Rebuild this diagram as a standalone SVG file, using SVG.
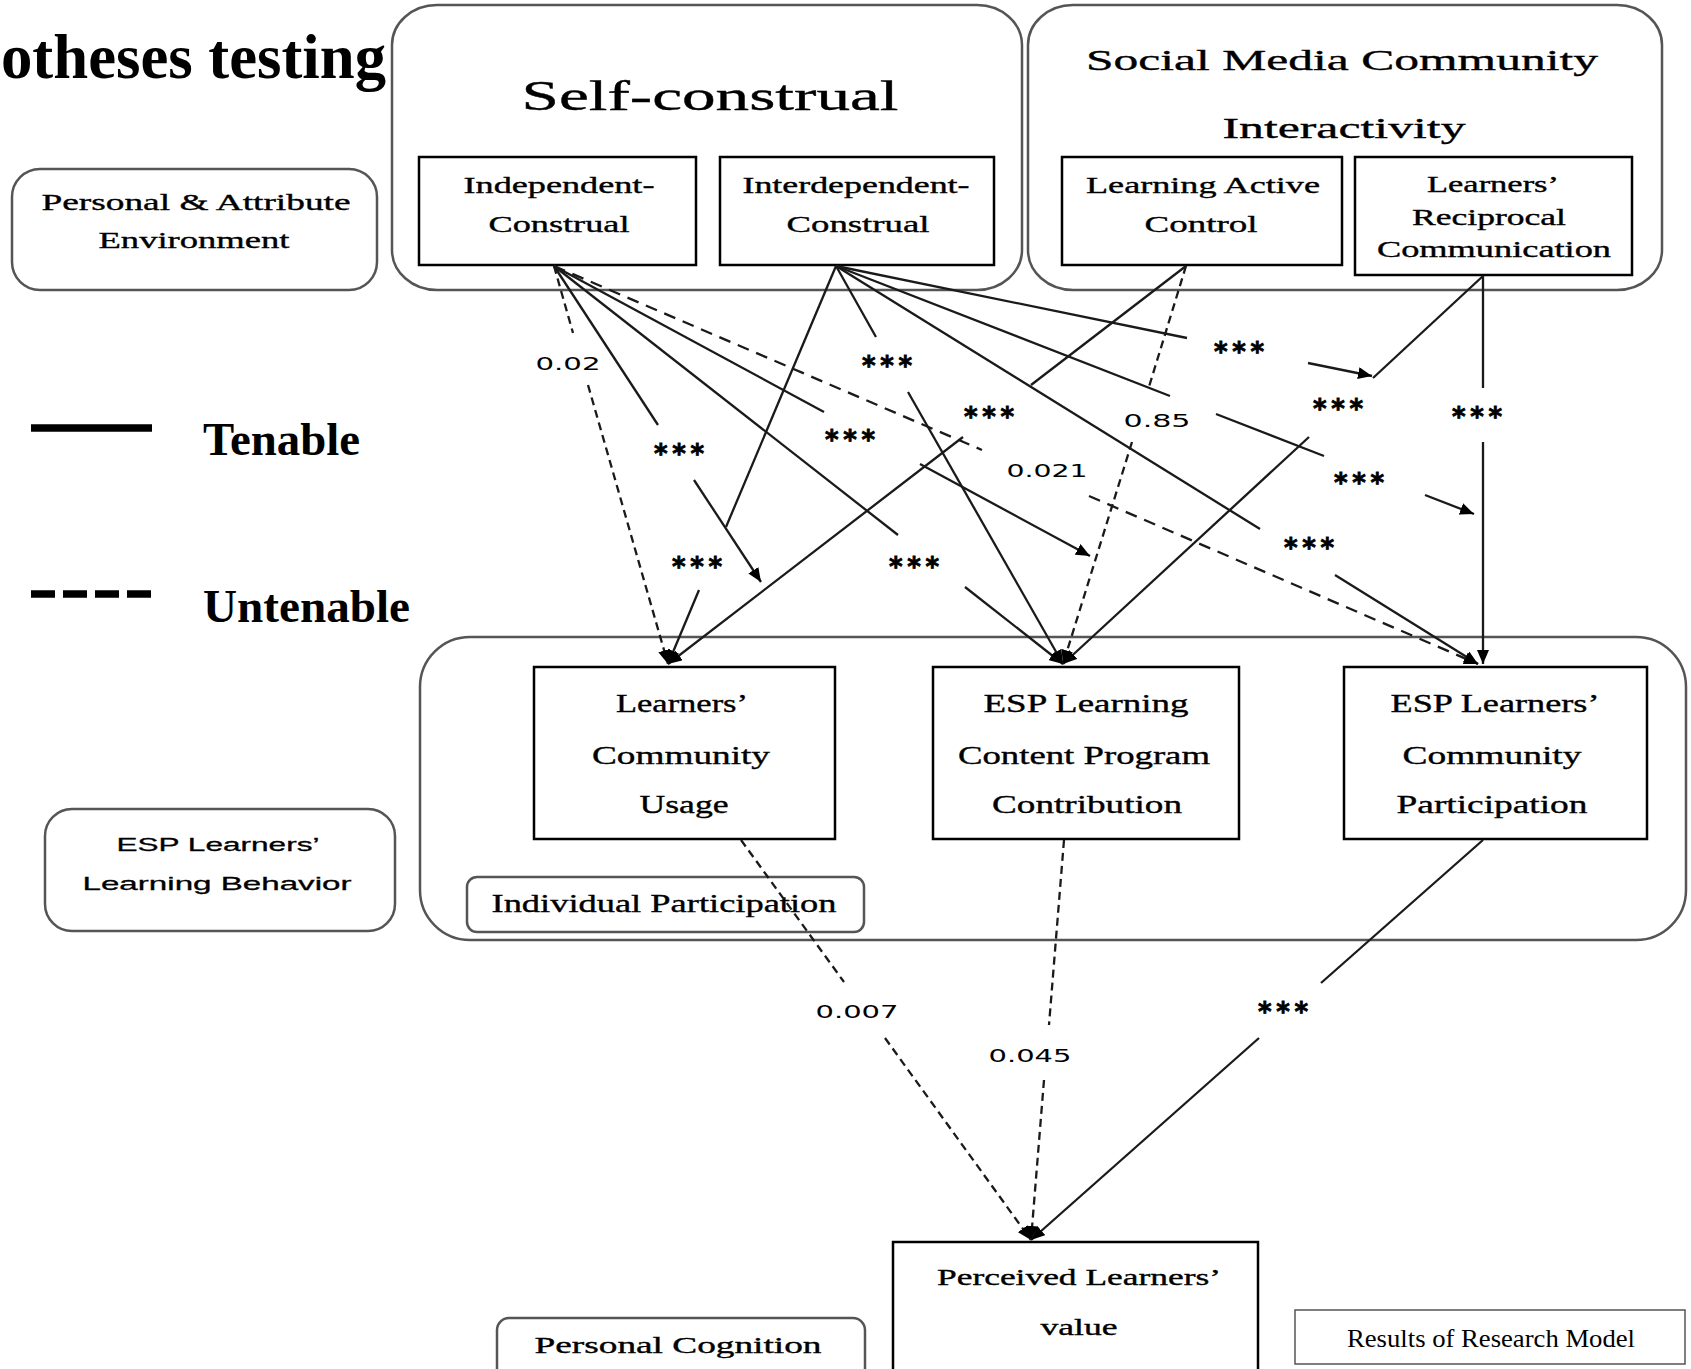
<svg xmlns="http://www.w3.org/2000/svg" width="1691" height="1369" viewBox="0 0 1691 1369">
<style>
.box{fill:#fff;stroke:#000;stroke-width:2.5}
.cont{fill:#fff;stroke:#555;stroke-width:2.5}
.t{font-family:"Liberation Serif","DejaVu Serif",serif;fill:#000;text-anchor:middle;stroke:#000;stroke-width:0.35}
.ts{font-family:"Liberation Sans","DejaVu Sans",sans-serif;fill:#000;text-anchor:middle;stroke:#000;stroke-width:0.3}
.c{fill:none;stroke:#1a1a1a;stroke-width:2.3}
.d{stroke-dasharray:8 5}
.num{font-family:"DejaVu Sans","Liberation Sans",sans-serif;font-size:18px;fill:#000;text-anchor:middle}
.st{font-family:"DejaVu Sans","Liberation Sans",sans-serif;font-size:26px;font-weight:bold;fill:#000;text-anchor:middle;stroke:#000;stroke-width:0.8}
.big{font-family:"Liberation Serif",serif;font-weight:bold;fill:#000}
</style>
<defs>
<marker id="ah" markerUnits="userSpaceOnUse" markerWidth="15" markerHeight="12" refX="14" refY="6" orient="auto">
<path d="M0,0 L14,6 L0,12 z" fill="#000" stroke="none"/>
</marker>
</defs>
<rect width="1691" height="1369" fill="#fff"/>

<text class="big" x="1" y="78" font-size="64" textLength="385" lengthAdjust="spacingAndGlyphs">otheses testing</text>

<g id="legend">
<line x1="31" y1="428" x2="152" y2="428" stroke="#000" stroke-width="7.5"/>
<text class="big" x="203" y="455" font-size="46" textLength="157" lengthAdjust="spacingAndGlyphs">Tenable</text>
<line x1="31" y1="594" x2="152" y2="594" stroke="#000" stroke-width="7.5" stroke-dasharray="24 8"/>
<text class="big" x="203" y="622" font-size="46" textLength="207" lengthAdjust="spacingAndGlyphs">Untenable</text>
</g>

<g id="personal-attribute">
<rect class="cont" x="12" y="169" width="365" height="121" rx="28"/>
<text class="t" x="196" y="210" font-size="24" textLength="309" lengthAdjust="spacingAndGlyphs">Personal &amp; Attribute</text>
<text class="t" x="194" y="248" font-size="24" textLength="191" lengthAdjust="spacingAndGlyphs">Environment</text>
</g>

<g id="esp-behavior">
<rect class="cont" x="45" y="809" width="350" height="122" rx="27"/>
<text class="ts" x="218" y="851" font-size="19" textLength="203" lengthAdjust="spacingAndGlyphs">ESP Learners’</text>
<text class="ts" x="217" y="890" font-size="19" textLength="269" lengthAdjust="spacingAndGlyphs">Learning Behavior</text>
</g>

<g id="self-construal">
<rect class="cont" x="392" y="5" width="630" height="285" rx="45" ry="40"/>
<text class="t" x="710" y="110" font-size="42" textLength="377" lengthAdjust="spacingAndGlyphs">Self-construal</text>
</g>
<g id="independent">
<rect class="box" x="419" y="157" width="277" height="108"/>
<text class="t" x="559" y="193" font-size="23" textLength="191" lengthAdjust="spacingAndGlyphs">Independent-</text>
<text class="t" x="559" y="232" font-size="23" textLength="141" lengthAdjust="spacingAndGlyphs">Construal</text>
</g>
<g id="interdependent">
<rect class="box" x="720" y="157" width="274" height="108"/>
<text class="t" x="856" y="193" font-size="23" textLength="227" lengthAdjust="spacingAndGlyphs">Interdependent-</text>
<text class="t" x="858" y="232" font-size="23" textLength="143" lengthAdjust="spacingAndGlyphs">Construal</text>
</g>

<g id="social-media">
<rect class="cont" x="1028" y="5" width="634" height="285" rx="45" ry="40"/>
<text class="t" x="1342" y="70" font-size="30" textLength="512" lengthAdjust="spacingAndGlyphs">Social Media Community</text>
<text class="t" x="1344" y="138" font-size="30" textLength="243" lengthAdjust="spacingAndGlyphs">Interactivity</text>
</g>
<g id="learning-active-control">
<rect class="box" x="1062" y="157" width="280" height="108"/>
<text class="t" x="1203" y="193" font-size="24" textLength="234" lengthAdjust="spacingAndGlyphs">Learning Active</text>
<text class="t" x="1201" y="232" font-size="24" textLength="113" lengthAdjust="spacingAndGlyphs">Control</text>
</g>
<g id="reciprocal-communication">
<rect class="box" x="1355" y="157" width="277" height="118"/>
<text class="t" x="1493" y="192" font-size="23" textLength="132" lengthAdjust="spacingAndGlyphs">Learners’</text>
<text class="t" x="1489" y="225" font-size="23" textLength="154" lengthAdjust="spacingAndGlyphs">Reciprocal</text>
<text class="t" x="1494" y="257" font-size="23" textLength="234" lengthAdjust="spacingAndGlyphs">Communication</text>
</g>

<g id="participation-container">
<rect class="cont" x="420" y="637" width="1266" height="303" rx="50"/>
</g>
<g id="community-usage">
<rect class="box" x="534" y="667" width="301" height="172"/>
<text class="t" x="682" y="712" font-size="25" textLength="132" lengthAdjust="spacingAndGlyphs">Learners’</text>
<text class="t" x="681" y="764" font-size="25" textLength="178" lengthAdjust="spacingAndGlyphs">Community</text>
<text class="t" x="684" y="813" font-size="25" textLength="89" lengthAdjust="spacingAndGlyphs">Usage</text>
</g>
<g id="content-contribution">
<rect class="box" x="933" y="667" width="306" height="172"/>
<text class="t" x="1086" y="712" font-size="25" textLength="205" lengthAdjust="spacingAndGlyphs">ESP Learning</text>
<text class="t" x="1084" y="764" font-size="25" textLength="252" lengthAdjust="spacingAndGlyphs">Content Program</text>
<text class="t" x="1087" y="813" font-size="25" textLength="190" lengthAdjust="spacingAndGlyphs">Contribution</text>
</g>
<g id="community-participation">
<rect class="box" x="1344" y="667" width="303" height="172"/>
<text class="t" x="1495" y="712" font-size="25" textLength="209" lengthAdjust="spacingAndGlyphs">ESP Learners’</text>
<text class="t" x="1492" y="764" font-size="25" textLength="179" lengthAdjust="spacingAndGlyphs">Community</text>
<text class="t" x="1492" y="813" font-size="25" textLength="191" lengthAdjust="spacingAndGlyphs">Participation</text>
</g>
<g id="individual-participation">
<rect x="467" y="877" width="397" height="55" rx="10" fill="#fff" stroke="#555" stroke-width="2.5"/>
<text class="t" x="664" y="912" font-size="25" textLength="345" lengthAdjust="spacingAndGlyphs">Individual Participation</text>
</g>

<g id="perceived-value">
<rect class="box" x="893" y="1242" width="365" height="160"/>
<text class="t" x="1079" y="1285" font-size="23" textLength="284" lengthAdjust="spacingAndGlyphs">Perceived Learners’</text>
<text class="t" x="1079" y="1335" font-size="23" textLength="77" lengthAdjust="spacingAndGlyphs">value</text>
</g>
<g id="personal-cognition">
<rect x="497" y="1318" width="368" height="80" rx="12" fill="#fff" stroke="#555" stroke-width="2.5"/>
<text class="t" x="678" y="1353" font-size="23" textLength="287" lengthAdjust="spacingAndGlyphs">Personal Cognition</text>
</g>
<g id="results-caption">
<rect x="1295" y="1310" width="390" height="54" fill="#fff" stroke="#555" stroke-width="1.5"/>
<text x="1491" y="1347" font-family="Liberation Serif, serif" font-size="26" text-anchor="middle" textLength="288" lengthAdjust="spacingAndGlyphs">Results of Research Model</text>
</g>

<g id="connectors">
<!-- Independent -->
<path class="c d" d="M554,266 L573,333"/>
<path class="c d" d="M588,385 L668,664" marker-end="url(#ah)"/>
<path class="c" d="M554,266 L658,425"/>
<path class="c" d="M694,480 L761,582" marker-end="url(#ah)"/>
<path class="c" d="M554,266 L824,412"/>
<path class="c" d="M920,464 L1090,556" marker-end="url(#ah)"/>
<path class="c" d="M554,266 L898,535"/>
<path class="c" d="M965,587 L1063,664" marker-end="url(#ah)"/>
<path class="c" d="M554,266 L982,450" stroke-dasharray="12 8"/>
<path class="c" d="M1089,496 L1478,664" stroke-dasharray="12 8" marker-end="url(#ah)"/>
<!-- Interdependent -->
<path class="c" d="M836,266 L726,527"/>
<path class="c" d="M699,590 L668,664" marker-end="url(#ah)"/>
<path class="c" d="M836,266 L876,337"/>
<path class="c" d="M908,392 L1063,664" marker-end="url(#ah)"/>
<path class="c" d="M836,266 L1187,338"/>
<path class="c" d="M1308,363 L1372,376" marker-end="url(#ah)"/>
<path class="c" d="M836,266 L1170,396 M1216,414 L1324,456"/>
<path class="c" d="M1425,495 L1474,514" marker-end="url(#ah)"/>
<path class="c" d="M836,266 L1260,529"/>
<path class="c" d="M1335,575 L1478,664" marker-end="url(#ah)"/>
<!-- Learning Active Control -->
<path class="c" d="M1186,266 L1031,385"/>
<path class="c" d="M963,437 L668,664" marker-end="url(#ah)"/>
<path class="c d" d="M1186,266 L1148,390"/>
<path class="c d" d="M1132,442 L1063,664" marker-end="url(#ah)"/>
<!-- Reciprocal Communication -->
<path class="c" d="M1483,276 L1373,378"/>
<path class="c" d="M1309,437 L1063,664" marker-end="url(#ah)"/>
<path class="c" d="M1483,276 L1483,388"/>
<path class="c" d="M1483,442 L1483,664" marker-end="url(#ah)"/>
<!-- to Perceived value -->
<path class="c d" d="M741,840 L844,982"/>
<path class="c d" d="M885,1038 L1031,1240" marker-end="url(#ah)"/>
<path class="c d" d="M1064,840 L1049,1025"/>
<path class="c d" d="M1044,1080 L1031,1240" marker-end="url(#ah)"/>
<path class="c" d="M1483,840 L1321,983"/>
<path class="c" d="M1259,1038 L1031,1240" marker-end="url(#ah)"/>
</g>

<g id="labels">
<text class="num" x="568" y="370" textLength="65" lengthAdjust="spacingAndGlyphs">0.02</text>
<text class="num" x="1157" y="427" textLength="67" lengthAdjust="spacingAndGlyphs">0.85</text>
<text class="num" x="1047" y="477" textLength="81" lengthAdjust="spacingAndGlyphs">0.021</text>
<text class="num" x="857" y="1018" textLength="83" lengthAdjust="spacingAndGlyphs">0.007</text>
<text class="num" x="1030" y="1062" textLength="83" lengthAdjust="spacingAndGlyphs">0.045</text>
<text class="st" x="679" y="463" textLength="50">***</text>
<text class="st" x="887" y="375" textLength="50">***</text>
<text class="st" x="850" y="449" textLength="50">***</text>
<text class="st" x="697" y="576" textLength="50">***</text>
<text class="st" x="914" y="576" textLength="50">***</text>
<text class="st" x="989" y="426" textLength="50">***</text>
<text class="st" x="1239" y="361" textLength="50">***</text>
<text class="st" x="1338" y="418" textLength="50">***</text>
<text class="st" x="1359" y="492" textLength="50">***</text>
<text class="st" x="1309" y="557" textLength="50">***</text>
<text class="st" x="1477" y="426" textLength="50">***</text>
<text class="st" x="1283" y="1021" textLength="50">***</text>
</g>
</svg>
